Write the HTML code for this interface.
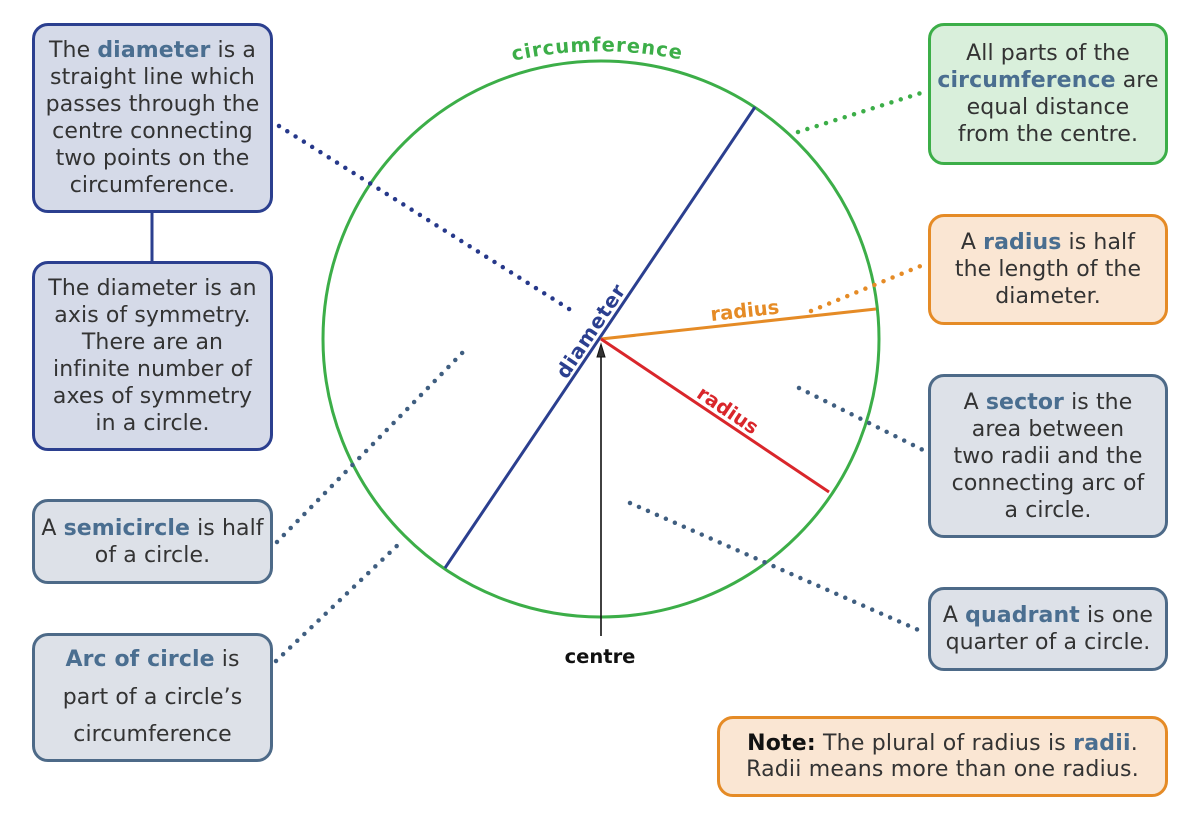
<!DOCTYPE html>
<html>
<head>
<meta charset="utf-8">
<style>
  html, body { margin:0; padding:0; background:#ffffff; }
  body { width:1200px; height:815px; position:relative; overflow:hidden;
         font-family:"DejaVu Sans","Liberation Sans",sans-serif; color:#333; }
  .box { position:absolute; box-sizing:border-box; border:3px solid; border-radius:16px;
         display:flex; align-items:center; justify-content:center; text-align:center;
         font-size:22px; line-height:27px; letter-spacing:0.1px; }
  .navy { border-color:#2b3f8f; background:#d5dae8; }
  .slate { border-color:#4d6a88; background:#dde1e8; }
  .green { border-color:#3cae48; background:#d9efdb; }
  .orange { border-color:#e58b26; background:#fae6d3; }
  .hl { color:#4a6e90; font-weight:bold; }
  svg { position:absolute; left:0; top:0; }
</style>
</head>
<body>
<svg width="1200" height="815" viewBox="0 0 1200 815">
  <line x1="152" y1="211" x2="152" y2="262" stroke="#2b3f8f" stroke-width="3"/>
  <circle cx="601" cy="339" r="278" fill="none" stroke="#3cae48" stroke-width="3"/>
  <line x1="755" y1="107" x2="445" y2="568" stroke="#2b3f8f" stroke-width="3"/>
  <line x1="601" y1="339" x2="876" y2="309" stroke="#e58b26" stroke-width="3"/>
  <line x1="601" y1="339" x2="829" y2="492" stroke="#d9262b" stroke-width="3"/>
  <line x1="601" y1="636" x2="601" y2="354" stroke="#111" stroke-width="1.6"/>
  <polygon points="601,344 597,357 605,357" fill="#333" stroke="#111" stroke-width="1"/>

  <g fill="none" stroke-width="4.5" stroke-linecap="round" stroke-dasharray="0 9.8">
    <line x1="279" y1="126" x2="577" y2="314" stroke="#26388a"/>
    <line x1="277" y1="542" x2="468" y2="347" stroke="#3f5e80"/>
    <line x1="276" y1="661" x2="402" y2="541" stroke="#3f5e80"/>
    <line x1="798" y1="132" x2="921" y2="93" stroke="#3cae48"/>
    <line x1="811" y1="311" x2="923" y2="265" stroke="#e58b26"/>
    <line x1="799" y1="388" x2="923" y2="450" stroke="#3f5e80"/>
    <line x1="630" y1="503" x2="923" y2="632" stroke="#3f5e80"/>
  </g>

  <defs>
    <path id="circPath" d="M470,73 A400,400 0 0 1 730,73"/>
  </defs>
  <text font-family="DejaVu Sans, Liberation Sans, sans-serif" font-weight="bold" font-size="19.5" fill="#3cae48" letter-spacing="1">
    <textPath href="#circPath" startOffset="49%" text-anchor="middle">circumference</textPath>
  </text>
  <text transform="translate(601,339) rotate(-56.4)" x="1" y="-6" text-anchor="middle"
        font-family="DejaVu Sans, Liberation Sans, sans-serif" font-weight="bold" font-size="20" fill="#2b3f8f" letter-spacing="0.8">diameter</text>
  <text transform="translate(601,339) rotate(-6.2)" x="146" y="-6" text-anchor="middle"
        font-family="DejaVu Sans, Liberation Sans, sans-serif" font-weight="bold" font-size="19.5" fill="#e58b26">radius</text>
  <text transform="translate(601,339) rotate(33.9)" x="145" y="-5" text-anchor="middle"
        font-family="DejaVu Sans, Liberation Sans, sans-serif" font-weight="bold" font-size="19.5" fill="#d9262b">radius</text>
  <text x="600" y="663" text-anchor="middle" font-family="DejaVu Sans, Liberation Sans, sans-serif"
        font-weight="bold" font-size="19.5" fill="#111">centre</text>
</svg>

<div class="box navy" style="left:32px;top:23px;width:241px;height:190px;">
  <div>The <span class="hl">diameter</span> is a<br>straight line which<br>passes through the<br>centre connecting<br>two points on the<br>circumference.</div>
</div>
<div class="box navy" style="left:32px;top:261px;width:241px;height:190px;">
  <div>The diameter is an<br>axis of symmetry.<br>There are an<br>infinite number of<br>axes of symmetry<br>in a circle.</div>
</div>
<div class="box slate" style="left:32px;top:499px;width:241px;height:85px;">
  <div>A <span class="hl">semicircle</span> is half<br>of a circle.</div>
</div>
<div class="box slate" style="left:32px;top:633px;width:241px;height:129px;line-height:37.5px;">
  <div><span class="hl">Arc of circle</span> is<br>part of a circle’s<br>circumference</div>
</div>

<div class="box green" style="left:928px;top:23px;width:240px;height:142px;">
  <div>All parts of the<br><span class="hl">circumference</span> are<br>equal distance<br>from the centre.</div>
</div>
<div class="box orange" style="left:928px;top:214px;width:240px;height:111px;">
  <div>A <span class="hl">radius</span> is half<br>the length of the<br>diameter.</div>
</div>
<div class="box slate" style="left:928px;top:374px;width:240px;height:164px;">
  <div>A <span class="hl">sector</span> is the<br>area between<br>two radii and the<br>connecting arc of<br>a circle.</div>
</div>
<div class="box slate" style="left:928px;top:587px;width:240px;height:84px;">
  <div>A <span class="hl">quadrant</span> is one<br>quarter of a circle.</div>
</div>
<div class="box orange" style="left:717px;top:716px;width:451px;height:81px;line-height:26px;letter-spacing:0.2px;">
  <div><b style="color:#111;">Note:</b> The plural of radius is <span class="hl">radii</span>.<br>Radii means more than one radius.</div>
</div>
</body>
</html>
